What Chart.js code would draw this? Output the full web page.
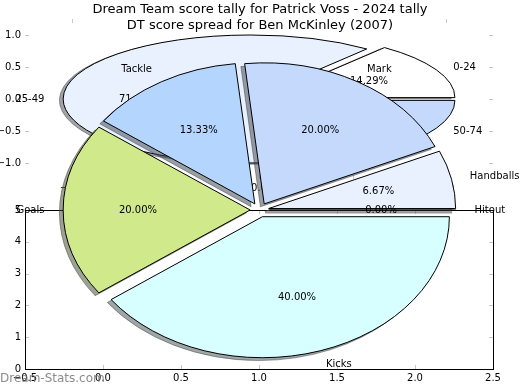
<!DOCTYPE html>
<html>
<head>
<meta charset="utf-8">
<script src="https://cdn.jsdelivr.net/npm/chart.js@4.4.0/dist/chart.umd.min.js"></script>
<style>
  html, body { margin: 0; padding: 0; background: #fff; }
  #wrap { position: relative; width: 520px; height: 390px; }
  #wrap canvas { position: absolute; left: 0; top: 0; }
</style>
</head>
<body>
<div id="wrap">
  <canvas id="spreadAxes" width="520" height="390"></canvas>
  <canvas id="spreadPie" width="520" height="390"></canvas>
  <canvas id="tallyAxes" width="520" height="390"></canvas>
  <canvas id="tallyPie" width="520" height="390"></canvas>
</div>
<script>
// score spread (Ben McKinley 2007), matplotlib order: counter-clockwise from 3 o'clock
const spreadLabels = ["0-24", "25-49", "50-74"];
const spreadValues = [1, 5, 1];
const spreadColors = ["#ffffff", "#e9f1ff", "#c5d9fd"];

// DT score tally (Patrick Voss 2024)
const tallyLabels = ["Hitout", "Handballs", "Mark", "Tackle", "Goals", "Kicks"];
const tallyValues = [0, 1, 3, 2, 3, 6];
const tallyColors = ["#ffffff", "#e9f1ff", "#c5d9fd", "#b4d5fe", "#cfe98b", "#d7ffff"];

// tick labels
const spreadTicks = [-1.0, -0.5, 0.0, 0.5, 1.0];
const tallyXTicks = [-0.5, 0.0, 0.5, 1.0, 1.5, 2.0, 2.5];
const tallyYTicks = [0, 1, 2, 3, 4, 5];

const title1 = "Dream Team score tally for Patrick Voss - 2024 tally";
const title2 = "DT score spread for Ben McKinley (2007)";
const watermark = "Dream-Stats.com";

const FONT = '"DejaVu Sans", sans-serif';
Chart.defaults.font.family = FONT;
Chart.defaults.font.size = 10;
Chart.defaults.color = "#000";
Chart.defaults.animation = false;
Chart.defaults.events = [];
Chart.defaults.plugins.legend.display = false;
Chart.defaults.plugins.tooltip.enabled = false;

const fmtTick = digits => v => v.toFixed(digits).replace("-", "\u2212");

// matplotlib style ticks: pointing inwards, on all four sides
const innerTicks = {
    id: "innerTicks",
    afterDraw(chart, args, opts) {
        const {ctx, chartArea: a, scales} = chart;
        ctx.save();
        ctx.lineWidth = 1;
        ctx.strokeStyle = opts.color;
        ctx.beginPath();
        scales.x.ticks.forEach(t => {
            const px = Math.round(scales.x.getPixelForValue(t.value)) + 0.5;
            ctx.moveTo(px, a.top); ctx.lineTo(px, a.top + opts.len);
            ctx.moveTo(px, a.bottom); ctx.lineTo(px, a.bottom - opts.len);
        });
        scales.y.ticks.forEach(t => {
            const py = Math.round(scales.y.getPixelForValue(t.value)) + 0.5;
            ctx.moveTo(a.left, py); ctx.lineTo(a.left + opts.len, py);
            ctx.moveTo(a.right, py); ctx.lineTo(a.right - opts.len, py);
        });
        ctx.stroke();
        if (opts.frame) {
            ctx.strokeStyle = opts.frame;
            ctx.strokeRect(Math.round(a.left) + 0.5, Math.round(a.top) + 0.5,
                Math.round(a.right - a.left), Math.round(a.bottom - a.top));
        }
        ctx.restore();
    }
};

const titleLines = {
    id: "titleLines",
    afterDraw(chart, args, opts) {
        const ctx = chart.ctx;
        ctx.save();
        ctx.font = "13px " + FONT;
        ctx.textAlign = "center";
        ctx.textBaseline = "middle";
        opts.lines.forEach((line, i) => {
            const w = ctx.measureText(line).width;
            const x = chart.width / 2, y = opts.y[i];
            ctx.fillStyle = "#fff";
            ctx.fillRect(x - w / 2, y - 7, w, 14);
            ctx.fillStyle = "#000";
            ctx.fillText(line, x, y);
        });
        ctx.restore();
    }
};

function shade(hex) {
    const n = parseInt(hex.slice(1), 16);
    const r = (n >> 16) & 255, g = (n >> 8) & 255, b = n & 255;
    return "rgba(" + Math.round(r * 0.3) + "," + Math.round(g * 0.3) + "," + Math.round(b * 0.3) + ",0.5)";
}

// squashes the pie into an ellipse, explodes wedges, adds shadows and labels
const squashedPie = {
    id: "squashedPie",
    beforeDatasetsDraw(chart, args, opts) {
        const {ctx, chartArea: a} = chart;
        const arcs = chart.getDatasetMeta(0).data;
        const cx = (a.left + a.right) / 2, cy = (a.top + a.bottom) / 2;
        const base = ctx.getTransform();
        arcs.forEach(arc => {
            const mid = (arc.startAngle + arc.endAngle) / 2;
            arc.x = cx + Math.cos(mid) * opts.explode * arc.outerRadius;
            arc.y = cy + Math.sin(mid) * opts.explode * arc.outerRadius;
        });
        ctx.save();
        ctx.translate(cx, cy);
        ctx.scale(1, opts.squash);
        ctx.translate(-cx, -cy);
        // keep line widths even after the vertical squash
        ctx.stroke = function () {
            this.save();
            this.setTransform(base);
            CanvasRenderingContext2D.prototype.stroke.call(this);
            this.restore();
        };
        arcs.forEach(arc => {
            const s = opts.shadow * arc.outerRadius;
            const c = shade(arc.options.backgroundColor);
            ctx.fillStyle = c;
            ctx.strokeStyle = c;
            ctx.lineWidth = 1;
            ctx.beginPath();
            ctx.moveTo(arc.x - s, arc.y + s);
            ctx.arc(arc.x - s, arc.y + s, arc.outerRadius, arc.startAngle, arc.endAngle);
            ctx.closePath();
            ctx.fill();
            ctx.stroke();
        });
    },
    afterDatasetsDraw(chart, args, opts) {
        const {ctx, chartArea: a} = chart;
        const arcs = chart.getDatasetMeta(0).data;
        const cx = (a.left + a.right) / 2, cy = (a.top + a.bottom) / 2;
        // empty wedges are skipped by Chart.js, matplotlib still draws their edge
        arcs.forEach(arc => {
            if (arc.endAngle - arc.startAngle > 0) return;
            ctx.strokeStyle = arc.options.borderColor;
            ctx.lineWidth = arc.options.borderWidth;
            ctx.beginPath();
            ctx.moveTo(arc.x, arc.y);
            ctx.lineTo(arc.x + Math.cos(arc.startAngle) * arc.outerRadius,
                arc.y + Math.sin(arc.startAngle) * arc.outerRadius);
            ctx.stroke();
        });
        delete ctx.stroke;
        ctx.restore();

        const values = chart.data.datasets[0].data;
        const total = values.reduce((s, v) => s + v, 0);
        ctx.save();
        ctx.font = "10px " + FONT;
        ctx.fillStyle = "#000";
        ctx.textBaseline = "middle";
        arcs.forEach((arc, i) => {
            const mid = (arc.startAngle + arc.endAngle) / 2;
            const at = d => [
                arc.x + Math.cos(mid) * arc.outerRadius * d,
                cy + (arc.y - cy + Math.sin(mid) * arc.outerRadius * d) * opts.squash
            ];
            const [lx, ly] = at(1.1);
            ctx.textAlign = Math.cos(mid) > 0 ? "left" : "right";
            ctx.fillText(chart.data.labels[i], lx, ly);
            const [px, py] = at(0.6);
            ctx.textAlign = "center";
            ctx.fillText((values[i] / total * 100).toFixed(2) + "%", px, py);
        });
        ctx.restore();
        arcs.forEach(arc => { arc.x = cx; arc.y = cy; });
    },
    afterDraw(chart, args, opts) {
        if (!opts.watermark) return;
        const ctx = chart.ctx;
        ctx.save();
        ctx.font = "12px " + FONT;
        ctx.fillStyle = "rgba(120,120,120,0.85)";
        ctx.textAlign = "left";
        ctx.textBaseline = "middle";
        ctx.fillText(opts.watermark, 0, 379);
        ctx.restore();
    }
};

// score spread axes (pie limits -1.25 .. 1.25)
new Chart(document.getElementById("spreadAxes"), {
    type: "scatter",
    data: { datasets: [] },
    options: {
        responsive: false,
        layout: { padding: { left: 0, right: 27, top: 19, bottom: 0 } },
        scales: {
            x: {
                min: -1.25, max: 1.25,
                afterBuildTicks: s => { s.ticks = spreadTicks.map(v => ({ value: v })); },
                afterFit: s => { s.height = 211; },
                grid: { display: false, drawTicks: false },
                border: { display: false },
                ticks: { autoSkip: false, maxRotation: 0, padding: 3, callback: fmtTick(1) }
            },
            y: {
                min: -1.25, max: 1.25,
                afterBuildTicks: s => { s.ticks = spreadTicks.map(v => ({ value: v })); },
                afterFit: s => { s.width = 25; },
                grid: { display: false, drawTicks: false },
                border: { display: false },
                ticks: { autoSkip: false, padding: 4, callback: fmtTick(1) }
            }
        },
        plugins: {
            innerTicks: { color: "#c8c8c8", len: 4 },
            titleLines: { lines: [title1, title2], y: [10, 26] }
        }
    },
    plugins: [innerTicks, titleLines]
});

new Chart(document.getElementById("spreadPie"), {
    type: "pie",
    data: {
        labels: [...spreadLabels].reverse(),
        datasets: [{
            data: [...spreadValues].reverse(),
            backgroundColor: [...spreadColors].reverse(),
            borderColor: "#000",
            borderWidth: 1,
            borderJoinStyle: "miter",
            clip: false
        }]
    },
    options: {
        responsive: false,
        rotation: 90,
        radius: 187,
        layout: { padding: { left: 25, right: 26, top: 0, bottom: 192 } },
        plugins: { squashedPie: { squash: 64 / 187, explode: 0.05, shadow: 0.02 } }
    },
    plugins: [squashedPie]
});

// tally axes
new Chart(document.getElementById("tallyAxes"), {
    type: "scatter",
    data: { datasets: [] },
    options: {
        responsive: false,
        layout: { padding: { left: 0, right: 27, top: 210, bottom: 0 } },
        scales: {
            x: {
                min: -0.5, max: 2.5,
                afterBuildTicks: s => { s.ticks = tallyXTicks.map(v => ({ value: v })); },
                afterFit: s => { s.height = 21; },
                grid: { display: false, drawTicks: false },
                border: { display: false },
                ticks: { autoSkip: false, maxRotation: 0, padding: 3, callback: fmtTick(1) }
            },
            y: {
                min: 0, max: 5,
                afterBuildTicks: s => { s.ticks = tallyYTicks.map(v => ({ value: v })); },
                afterFit: s => { s.width = 25; },
                grid: { display: false, drawTicks: false },
                border: { display: false },
                ticks: { autoSkip: false, padding: 4, callback: fmtTick(0) }
            }
        },
        plugins: {
            innerTicks: { color: "#c8c8c8", len: 4, frame: "#000" }
        }
    },
    plugins: [innerTicks]
});

new Chart(document.getElementById("tallyPie"), {
    type: "pie",
    data: {
        labels: [...tallyLabels].reverse(),
        datasets: [{
            data: [...tallyValues].reverse(),
            backgroundColor: [...tallyColors].reverse(),
            borderColor: "#000",
            borderWidth: 1,
            borderJoinStyle: "miter",
            clip: false
        }]
    },
    options: {
        responsive: false,
        rotation: 90,
        radius: 187,
        layout: { padding: { left: 25, right: 26, top: 30, bottom: 0 } },
        plugins: { squashedPie: { squash: 141 / 187, explode: 0.05, shadow: 0.02, watermark: watermark } }
    },
    plugins: [squashedPie]
});
</script>
</body>
</html>
